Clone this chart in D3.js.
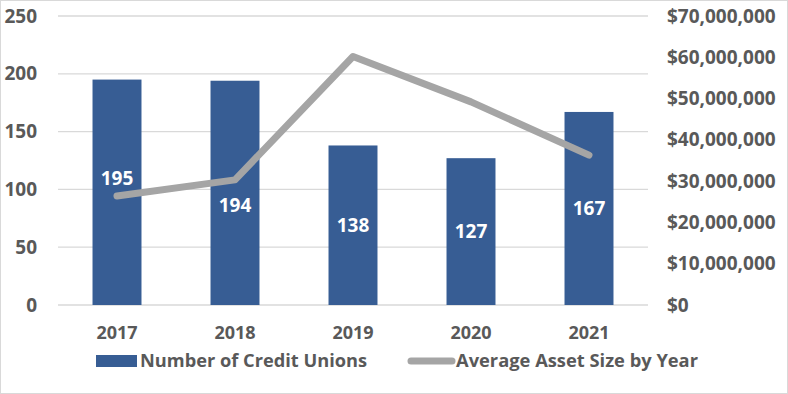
<!DOCTYPE html>
<html><head><meta charset="utf-8">
<script src="https://cdn.jsdelivr.net/npm/d3@7"></script>
<style>body{margin:0;background:#fff}svg{display:block}</style>
</head><body>
<svg id="c" width="788" height="394"></svg>
<script>
const years = ["2017","2018","2019","2020","2021"];
const creditUnions = [195, 194, 138, 127, 167];
const avgAssets = [26400000, 30300000, 60200000, 49200000, 36300000];
const leftTicks = [0, 50, 100, 150, 200, 250];
const rightTicks = [0, 10000000, 20000000, 30000000, 40000000, 50000000, 60000000, 70000000];
const seriesNames = ["Number of Credit Unions", "Average Asset Size by Year"];

const labelNudge = [-14, 12, 0, 0, 0];
const font = "'Open Sans', 'Noto Sans', sans-serif";
const txt = "#595959";
const svg = d3.select("#c");
svg.append("rect").attr("x",0.5).attr("y",0.5).attr("width",787).attr("height",393)
  .attr("fill","#fff").attr("stroke","#D9D9D9");

const x = d3.scaleBand().domain(years).range([58, 648]).paddingInner(0.585).paddingOuter(0.2925);
const yL = d3.scaleLinear().domain([0,250]).range([305,16]);
const yR = d3.scaleLinear().domain([0,70000000]).range([305,16]);

// gridlines
svg.append("g").selectAll("line").data(leftTicks).join("line")
  .attr("x1",58).attr("x2",648).attr("y1",d=>yL(d)).attr("y2",d=>yL(d))
  .attr("stroke","#D9D9D9").attr("stroke-width",1.3);

// left axis
const axL = svg.append("g").attr("transform","translate(37,0)")
  .call(d3.axisLeft(yL).tickValues(leftTicks).tickSize(0).tickPadding(0));
axL.select(".domain").remove();
axL.selectAll("text").attr("font-family",font).attr("font-size",19).attr("font-weight","bold").attr("fill",txt);

// right axis
const axR = svg.append("g").attr("transform","translate(667,0)")
  .call(d3.axisRight(yR).tickValues(rightTicks).tickSize(0).tickPadding(0)
    .tickFormat(d=>"$"+d3.format(",")(d)));
axR.select(".domain").remove();
axR.selectAll("text").attr("font-family",font).attr("font-size",19).attr("font-weight","bold").attr("fill",txt);

// x axis
const axX = svg.append("g").attr("transform","translate(0,333)")
  .call(d3.axisBottom(x).tickSize(0).tickPadding(0));
axX.select(".domain").remove();
axX.selectAll("text").attr("font-family",font).attr("font-size",18).attr("font-weight","bold").attr("fill",txt).attr("dy","0.35em");

// bars
svg.append("g").selectAll("rect").data(creditUnions).join("rect")
  .attr("x",(d,i)=>x(years[i])).attr("width",x.bandwidth())
  .attr("y",d=>yL(d)).attr("height",d=>yL(0)-yL(d)).attr("fill","#375D94");

// line
const line = d3.line().x((d,i)=>x(years[i])+x.bandwidth()/2).y(d=>yR(d));
svg.append("path").datum(avgAssets).attr("d",line).attr("fill","none")
  .attr("stroke","#A5A5A5").attr("stroke-width",7).attr("stroke-linecap","round").attr("stroke-linejoin","round");

// labels
svg.append("g").selectAll("text").data(creditUnions).join("text")
  .attr("x",(d,i)=>x(years[i])+x.bandwidth()/2)
  .attr("y",(d,i)=>(yL(d)+yL(0))/2+labelNudge[i])
  .attr("text-anchor","middle").attr("dy","0.35em")
  .attr("font-family",font).attr("font-size",19).attr("font-weight","bold").attr("fill","#fff")
  .text(d=>d);

// legend
const lg = svg.append("g");
lg.append("rect").attr("x",96).attr("y",355).attr("width",41).attr("height",12).attr("fill","#375D94");
lg.append("text").attr("x",140).attr("y",361).attr("dy","0.35em").attr("font-family",font)
  .attr("font-size",18).attr("font-weight","bold").attr("fill",txt).attr("textLength",227).attr("lengthAdjust","spacingAndGlyphs").text(seriesNames[0]);
lg.append("line").attr("x1",411).attr("x2",452).attr("y1",361).attr("y2",361)
  .attr("stroke","#A5A5A5").attr("stroke-width",7).attr("stroke-linecap","round");
lg.append("text").attr("x",456).attr("y",361).attr("dy","0.35em").attr("font-family",font)
  .attr("font-size",18).attr("font-weight","bold").attr("fill",txt).attr("textLength",242).attr("lengthAdjust","spacingAndGlyphs").text(seriesNames[1]);
</script>
</body></html>
